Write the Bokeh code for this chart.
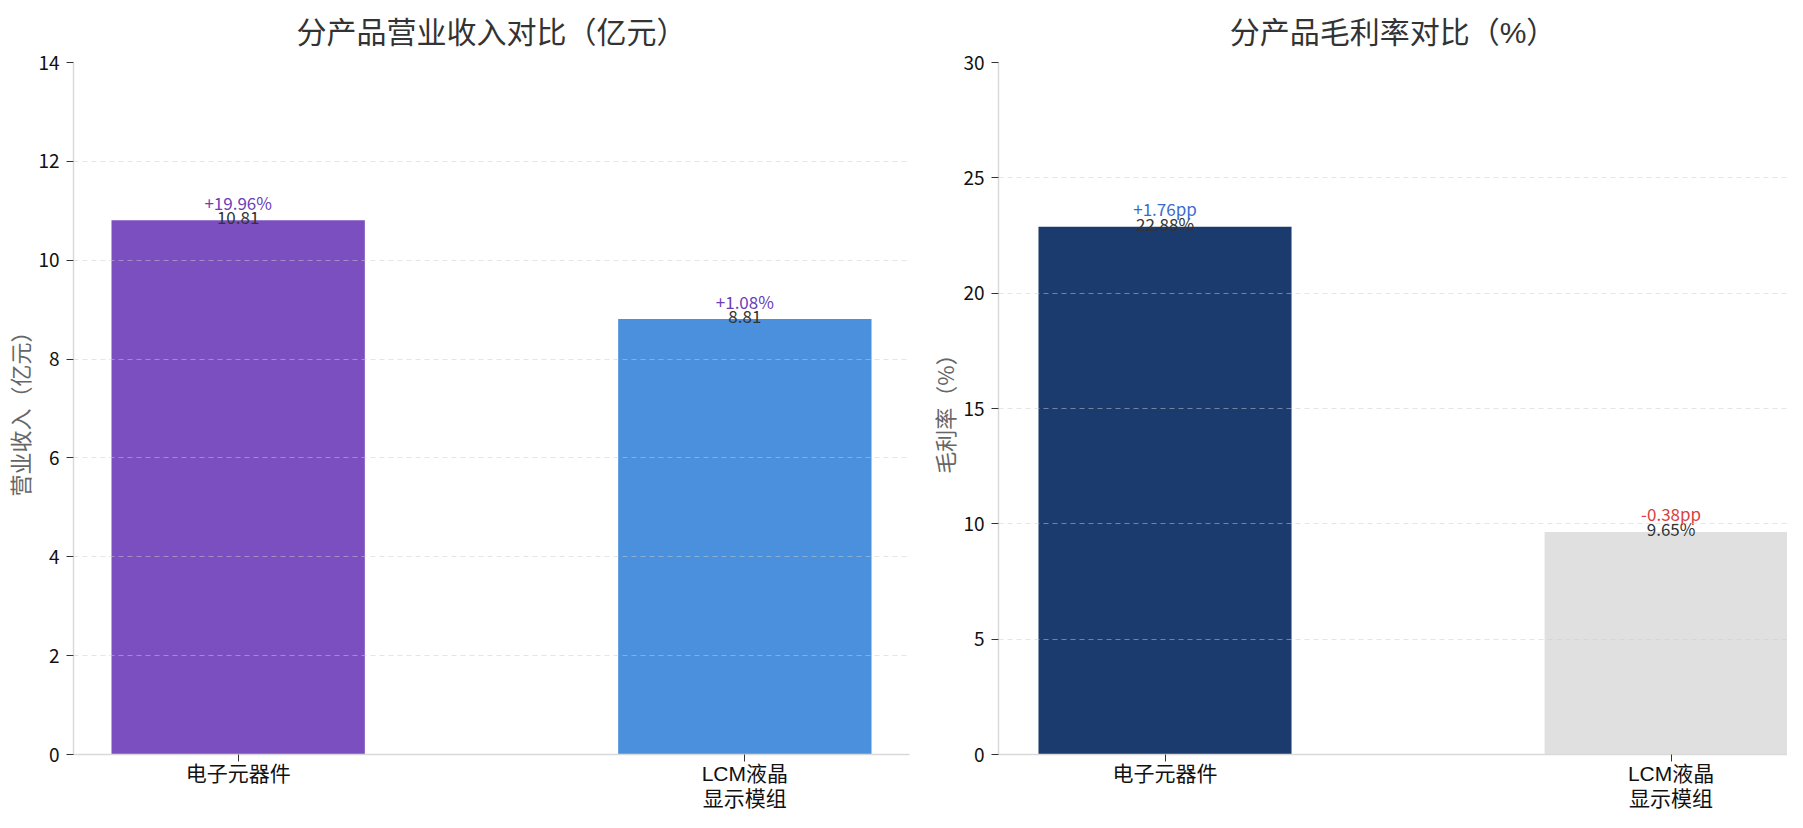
from bokeh.plotting import figure
from bokeh.layouts import row
from bokeh.models import ColumnDataSource, FixedTicker, Range1d
from bokeh.core.properties import value
from bokeh.embed import file_html
from bokeh.resources import INLINE

# ---------------- data ----------------
categories = ["电子元器件", "LCM液晶\n显示模组"]
revenue = [10.81, 8.81]
revenue_yoy = [19.96, 1.08]
margin = [22.88, 9.65]
margin_change = [1.76, -0.38]

revenue_colors = ["#7B4FC0", "#4A90DD"]
margin_colors = ["#1B3A6E", "#E0E0E0"]
yoy_color = "#6A40B8"
pos_color = "#3A6AD0"
neg_color = "#D94040"

FONT = "Noto Sans CJK SC"
TIGHT = "Liberation Sans, Noto Sans CJK SC"


def make_fig(title, ylabel, vals, colors, labels, chg_labels, chg_colors,
             y_end, y_step, x_start, x_end, width, border_right):
    x = list(range(len(vals)))
    src = ColumnDataSource(dict(x=x, top=vals, color=colors, lab=labels,
                                chg=chg_labels, chg_color=chg_colors))
    p = figure(width=width, height=812, output_backend="svg", toolbar_location=None,
               x_range=Range1d(x_start, x_end), y_range=Range1d(0, y_end),
               min_border_left=0, min_border_right=border_right,
               min_border_top=62, min_border_bottom=0)
    p.vbar(x="x", top="top", width=0.5, bottom=0, fill_color="color",
           line_color=None, source=src)
    p.text(x="x", y="top", text="lab", source=src, text_align="center",
           text_baseline="alphabetic", y_offset=-3, text_color="#333333",
           text_font=value(FONT), text_font_size="17px")
    p.text(x="x", y="top", text="chg", source=src, text_align="center",
           text_baseline="alphabetic", y_offset=-18, text_color="chg_color",
           text_font=value(FONT), text_font_size="17px")

    p.title.text = title
    p.title.align = "center"
    p.title.text_font = TIGHT
    p.title.text_font_size = "30px"
    p.title.text_font_style = "normal"
    p.title.text_color = "#333333"
    p.title.standoff = 27

    p.outline_line_color = None
    p.xgrid.visible = False
    p.ygrid.grid_line_color = "#cccccc"
    p.ygrid.grid_line_alpha = 0.5
    p.ygrid.grid_line_dash = "5 4"
    p.ygrid.level = "guide"

    p.xaxis.ticker = FixedTicker(ticks=x, minor_ticks=[])
    p.xaxis.major_label_overrides = {i: c for i, c in enumerate(categories)}
    p.yaxis.ticker = FixedTicker(ticks=list(range(0, y_end + 1, y_step)), minor_ticks=[])

    for ax in (p.xaxis[0], p.yaxis[0]):
        ax.axis_line_color = "#d9d9d9"
        ax.axis_line_width = 1.5
        ax.major_tick_line_color = "#333333"
        ax.major_tick_in = 0
        ax.major_tick_out = 7
        ax.minor_tick_line_color = None
        ax.major_label_text_color = "#111111"
    p.yaxis.major_label_text_font = FONT
    p.yaxis.major_label_text_font_size = "19px"
    p.yaxis.major_label_standoff = 7
    p.xaxis.major_label_text_font = TIGHT
    p.xaxis.major_label_text_font_size = "21px"
    p.xaxis.major_label_standoff = 0
    p.xaxis.major_label_text_line_height = 1.1

    p.yaxis.axis_label = ylabel
    p.yaxis.axis_label_text_font = FONT
    p.yaxis.axis_label_text_font_size = "22px"
    p.yaxis.axis_label_text_font_style = "normal"
    p.yaxis.axis_label_text_color = "#666666"
    p.yaxis.axis_label_standoff = 0
    return p


rev_labels = [f"{v:.2f}" for v in revenue]
rev_chg = [f"{v:+.2f}%" for v in revenue_yoy]
p1 = make_fig("分产品营业收入对比（亿元）", "营业收入（亿元）", revenue, revenue_colors,
              rev_labels, rev_chg, [yoy_color] * len(revenue), 14, 2, -0.325, 1.325, 925, 16)

mg_labels = [f"{v:.2f}%" for v in margin]
mg_chg = [f"{v:+.2f}pp" for v in margin_change]
mg_colors = [pos_color if v >= 0 else neg_color for v in margin_change]
p2 = make_fig("分产品毛利率对比（%）", "毛利率（%）", margin, margin_colors,
              mg_labels, mg_chg, mg_colors, 30, 5, -0.329, 1.23, 862, 0)

layout = row(p1, p2)
open("out.html", "w").write(file_html(layout, INLINE))
